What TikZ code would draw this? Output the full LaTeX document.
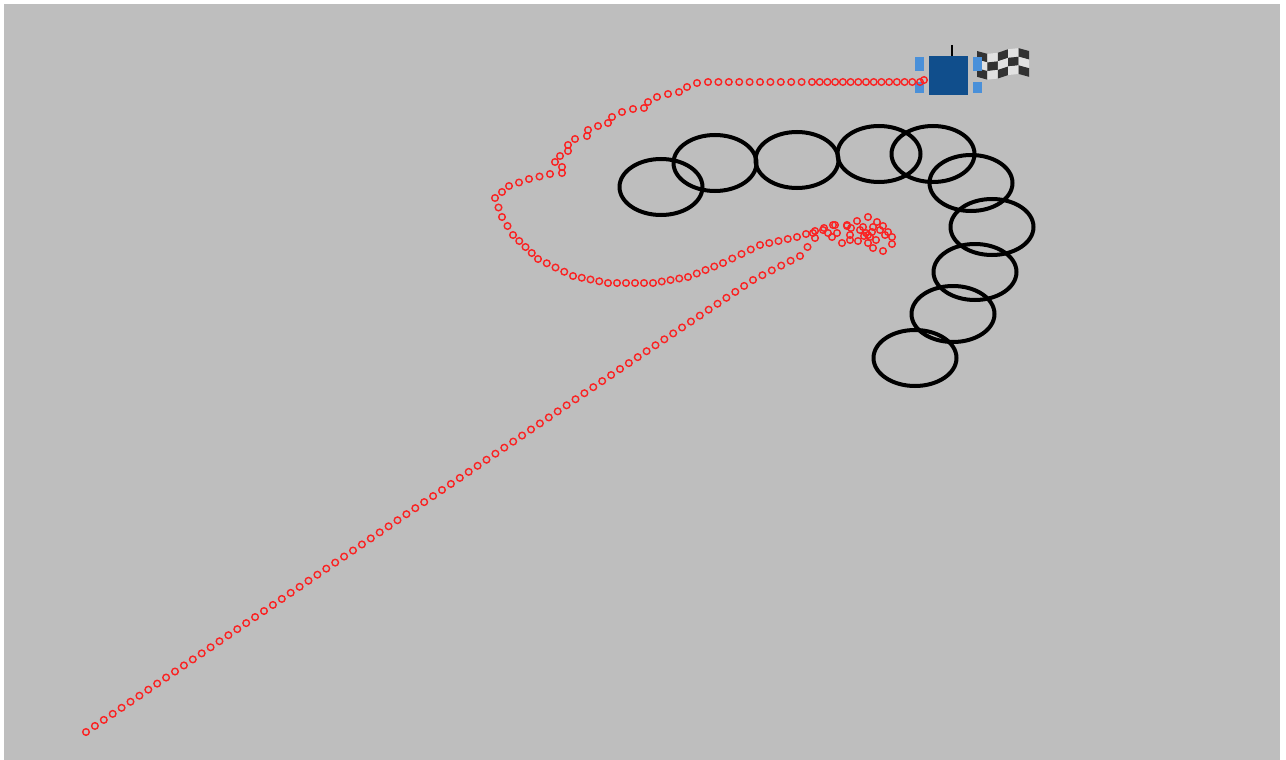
\documentclass[tikz,border=0pt]{standalone}

\definecolor{floor}{RGB}{190,190,190}
\definecolor{trailred}{RGB}{250,35,35}
\definecolor{bodyblue}{RGB}{16,78,140}
\definecolor{wheelblue}{RGB}{74,144,217}
\definecolor{checkdark}{RGB}{50,50,50}
\definecolor{checklight}{RGB}{225,225,225}

\begin{document}
\begin{tikzpicture}[x=1pt, y=-1pt,
                trail/.style = {draw=trailred, line width=1.4pt},
                obstacle/.style = {draw=black, line width=4pt},
                wheel/.style = {fill=wheelblue}]
            \useasboundingbox (0,0) rectangle (1286,760);
            \fill[white] (0,0) rectangle (1286,760);
            \fill[floor] (4,4) rectangle (1280,760);

            % obstacles
            \foreach \c in {(661,187), (715,163), (797,160), (879,154), (933,154),
                    (971,183), (992,227), (975,272), (953,314), (915,358)}
                \draw[obstacle] \c ellipse [x radius=41.5pt, y radius=28pt];

            % checkered flag
            \foreach \i in {0,...,4}
                \foreach \j in {0,...,2} {
                    \pgfmathsetmacro\xa{977+10.4*\i}
                    \pgfmathsetmacro\xb{977+10.4*(\i+1)}
                    \pgfmathsetmacro\wa{3*sin(72*\i)}
                    \pgfmathsetmacro\wb{3*sin(72*(\i+1))}
                    \pgfmathsetmacro\ya{51+8.6*\j}
                    \pgfmathtruncatemacro\odd{mod(\i+\j,2)}
                    \ifnum\odd=0 \def\cc{checkdark}\else\def\cc{checklight}\fi
                    \fill[\cc] (\xa,\ya+\wa) -- (\xb,\ya+\wb) -- (\xb,\ya+8.6+\wb) -- (\xa,\ya+8.6+\wa) -- cycle;
                }

            % robot at the goal
            \draw[line width=2pt] (952,45) -- (952,56);
            \fill[bodyblue] (929,56) rectangle (968,95);
            \fill[wheel] (915,57) rectangle (924,71);
            \fill[wheel] (915,82) rectangle (924,93);
            \fill[wheel] (973,57) rectangle (982,71);
            \fill[wheel] (973,82) rectangle (982,93);

            % driven trail: evenly spaced dots on each leg
            \foreach \p in {(86,732), (833,225)}
                \draw[trail] \p circle (3.3pt);
            \foreach \xa/\ya/\xb/\yb/\n in {86/732/620/369/60, 620/369/753/280/15,
                    753/280/800/256/5, 800/256/815/238/2, 815/238/823/230/1,
                    833/225/797/237/4, 797/237/760/245/4, 760/245/723/263/4, 723/263/688/277/4,
                    688/277/653/283/4, 653/283/608/283/5, 608/283/573/276/4, 573/276/538/259/4,
                    538/259/513/235/4, 513/235/502/217/2, 502/217/495/198/2, 495/198/509/186/2,
                    509/186/529/179/2, 529/179/550/174/2, 550/174/562/173/1,
                    697/83/708/82/1, 708/82/812/82/10, 812/82/920/82/14}
                \foreach \k in {1,...,\n}
                    \draw[trail] ({\xa+(\xb-\xa)/\n*\k},{\ya+(\yb-\ya)/\n*\k}) circle (3.3pt);
            % tangle near the obstacles and the wobbly climb
            \foreach \p in {(835,225), (847,225), (857,221), (868,217), (877,222), (883,226),
                    (888,232), (892,237), (892,244), (883,251), (873,248), (868,243), (868,235),
                    (866,233), (870,237), (864,236), (872,232), (860,230), (850,235), (842,243),
                    (850,240), (832,237), (828,233), (813,233), (837,233), (863,227), (873,227),
                    (880,230), (885,235), (847,226), (851,228), (876,240), (858,241),
                    (562,167), (555,162), (560,156), (568,151), (568,145), (575,139),
                    (587,136), (588,130), (598,126), (608,123), (612,117), (622,112), (633,109),
                    (644,108), (648,102), (657,97), (668,94), (679,92), (687,87), (697,83),
                    (924,80)}
                \draw[trail] \p circle (3.3pt);
        \end{tikzpicture}
\end{document}
